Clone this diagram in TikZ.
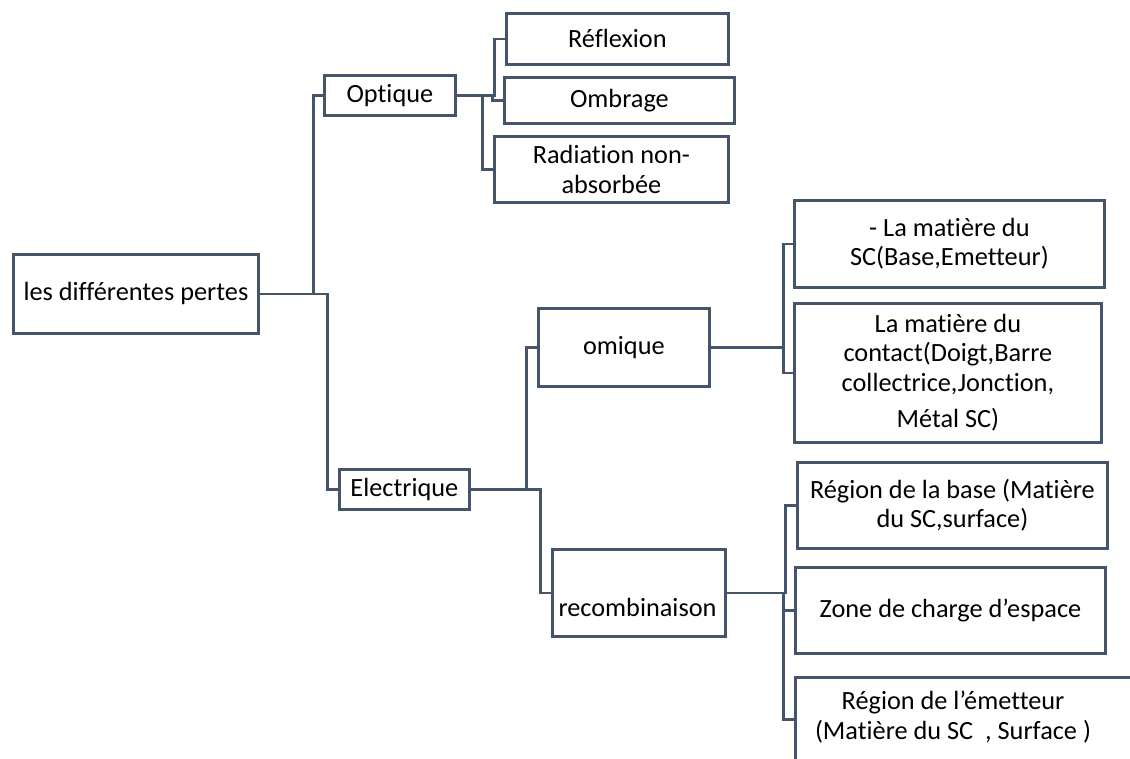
\documentclass[tikz,border=0pt]{standalone}
\usepackage{fontspec}
\setmainfont{Carlito}[Ligatures=NoCommon]
\definecolor{ln}{HTML}{44546A}
\tikzset{
  box/.style={draw=ln, line width=2.8pt, fill=white, inner sep=0pt, anchor=north west,
    align=center, font=\fontsize{26.3}{29.5}\selectfont, text=black},
  conn/.style={draw=ln, line width=2.8pt},
  lbl/.style={align=center, font=\fontsize{26.3}{29.5}\selectfont, text=black, inner sep=0pt}
}
\begin{document}
\begin{tikzpicture}[x=1pt,y=-1pt]
\useasboundingbox (0,0) rectangle (1130,758);
\fill[white] (0,0) rectangle (1130,758);
\clip (0,0) rectangle (1130,758);
% nodes
\node[box, minimum width=245, minimum height=79] (root) at (12,253) {les différentes pertes};
\node[box, minimum width=131, minimum height=40] (opt) at (323,74) {Optique};
\node[box, minimum width=222, minimum height=51] (refl) at (505,12) {Réflexion};
\node[box, minimum width=230, minimum height=46] (omb) at (503,76) {Ombrage};
\node[box, minimum width=234, minimum height=66] (rad) at (493,135) {Radiation non-\\absorbée};
\node[box, minimum width=130, minimum height=40] (elec) at (338,468) {Electrique};
\node[box, minimum width=171, minimum height=78] (omi) at (537,307) {omique};
\node[box, minimum width=173, minimum height=87] (rec) at (551,548) {};
\node[lbl] (rectxt) at (637.5,607) {recombinaison};
\node[box, minimum width=310, minimum height=87] (sc) at (793,199) {- La matière du\\SC(Base,Emetteur)};
\node[box, minimum width=307, minimum height=139] (cont) at (793,302)
  {La matière du\\contact(Doigt,Barre\\collectrice,Jonction,\\[7pt]Métal SC)};
\node[box, minimum width=310, minimum height=86] (base) at (796,461) {Région de la base (Matière\\du SC,surface)};
\node[box, minimum width=310, minimum height=86] (zone) at (794,566) {Zone de charge d’espace};
\node[box, minimum width=352, minimum height=84] (emet) at (794,676) {};
\node[lbl] (emettxt) at (953,717) {Région de l’émetteur\\(Matière du SC\ \ , Surface )};
% connectors
\draw[conn] (root.east) -- ++(54,0) |- (opt.west);
\draw[conn] (root.east) -- ++(68,0) |- (elec.west);
\draw[conn] (opt.east) -- ++(38,0) |- (refl.west);
\draw[conn] (opt.east) -- ++(36,0) |- (omb.west);
\draw[conn] (opt.east) -- ++(26,0) |- (rad.west);
\draw[conn] (elec.east) -- ++(56,0) |- (omi.west);
\draw[conn] (elec.east) -- ++(70,0) |- (rec.west);
\draw[conn] (omi.east) -- ++(73,0) |- (sc.west);
\draw[conn] (omi.east) -- ++(73,0) |- (cont.west);
\draw[conn] (rec.east) -- ++(59,0) |- (base.west);
\draw[conn] (rec.east) -- ++(57,0) |- (zone.west);
\draw[conn] (rec.east) -- ++(57,0) |- (emet.west);
\end{tikzpicture}
\end{document}
